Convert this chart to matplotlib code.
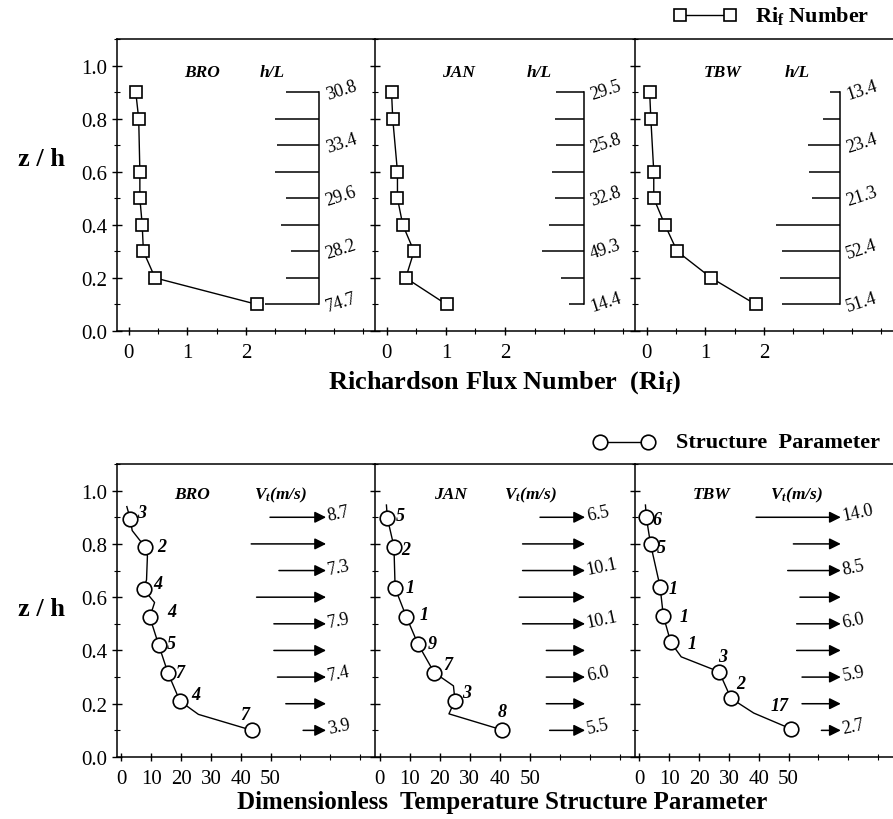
import matplotlib
matplotlib.use("Agg")
import matplotlib.pyplot as plt
from matplotlib.ticker import MultipleLocator, FixedLocator

plt.rcParams['font.family'] = ['Liberation Serif', 'DejaVu Serif']
plt.rcParams['mathtext.fontset'] = 'custom'
plt.rcParams['mathtext.rm'] = 'Liberation Serif'
plt.rcParams['mathtext.bf'] = 'Liberation Serif:bold'
plt.rcParams['mathtext.it'] = 'Liberation Serif:italic'
plt.rcParams['mathtext.bfit'] = 'Liberation Serif:italic:bold'

# ---------------- data: top row (Richardson flux number) ----------------
stations = ["BRO", "JAN", "TBW"]
z_ri = [0.9, 0.8, 0.6, 0.5, 0.4, 0.3, 0.2, 0.1]
ri_bro = [0.12, 0.17, 0.19, 0.19, 0.23, 0.25, 0.45, 2.19]
ri_jan = [0.08, 0.10, 0.18, 0.18, 0.27, 0.46, 0.32, 1.01]
ri_tbw = [0.05, 0.07, 0.12, 0.12, 0.31, 0.52, 1.10, 1.86]

z_hl = [0.9, 0.8, 0.7, 0.6, 0.5, 0.4, 0.3, 0.2, 0.1]
hl_bar_bro = [2.68, 2.49, 2.53, 2.49, 2.68, 2.59, 2.77, 2.68, 2.32]
hl_bar_jan = [2.86, 2.84, 2.87, 2.79, 2.84, 2.75, 2.63, 2.94, 3.08]
hl_bar_tbw = [3.13, 3.01, 2.75, 2.76, 2.82, 2.21, 2.30, 2.28, 2.31]
hl_axis = [3.25, 3.33, 3.29]
z_hl_lab = [0.9, 0.7, 0.5, 0.3, 0.1]
hl_bro = ["30.8", "33.4", "29.6", "28.2", "74.7"]
hl_jan = ["29.5", "25.8", "32.8", "49.3", "14.4"]
hl_tbw = ["13.4", "23.4", "21.3", "52.4", "51.4"]

# ---------------- data: bottom row (structure parameter) ----------------
ct_bro = [2.9, 7.8, 7.4, 9.5, 12.5, 15.6, 19.6, 43.8]
zc_bro = [0.895, 0.79, 0.63, 0.525, 0.42, 0.315, 0.21, 0.10]
ct_jan = [2.6, 4.8, 5.2, 8.9, 12.8, 18.2, 25.1, 40.7]
zc_jan = [0.898, 0.79, 0.634, 0.527, 0.424, 0.317, 0.212, 0.102]
ct_tbw = [2.3, 3.7, 6.9, 8.0, 10.5, 26.7, 30.7, 50.7]
zc_tbw = [0.90, 0.80, 0.64, 0.53, 0.43, 0.32, 0.22, 0.106]

prof_bro_x = [1.8, 2.9, 3.6, 7.8, 8.7, 8.4, 7.4, 11.1, 9.5, 12.5, 15.6, 19.6, 25.8, 43.8]
prof_bro_z = [0.94, 0.895, 0.85, 0.79, 0.755, 0.665, 0.63, 0.58, 0.525, 0.42, 0.315, 0.21, 0.16, 0.10]
prof_jan_x = [2.3, 2.6, 4.8, 5.2, 8.9, 12.8, 18.2, 24.6, 25.1, 23.1, 40.7]
prof_jan_z = [0.946, 0.898, 0.79, 0.634, 0.527, 0.424, 0.317, 0.267, 0.212, 0.162, 0.102]
prof_tbw_x = [2.0, 2.3, 3.7, 6.9, 8.0, 10.5, 14.0, 26.7, 30.7, 38.3, 50.7]
prof_tbw_z = [0.946, 0.90, 0.80, 0.64, 0.53, 0.43, 0.376, 0.32, 0.22, 0.165, 0.106]

n_bro = ["3", "2", "4", "4", "5", "7", "4", "7"]
n_jan = ["5", "2", "1", "1", "9", "7", "3", "8"]
n_tbw = ["6", "5", "1", "1", "1", "3", "2", "17"]
# label placement (layout)
npos_bro = [(6.6, 0.917), (13.4, 0.79), (12.3, 0.653), (16.8, 0.546), (16.8, 0.425), (19.6, 0.318), (25.0, 0.234), (41.3, 0.16)]
npos_jan = [(7.0, 0.905), (8.7, 0.78), (10.3, 0.635), (14.7, 0.535), (17.4, 0.425), (22.7, 0.347), (28.9, 0.244), (40.7, 0.169)]
npos_tbw = [(5.8, 0.89), (7.2, 0.785), (11.3, 0.634), (15.0, 0.527), (17.7, 0.425), (28.0, 0.376), (34.0, 0.275), (47.0, 0.194)]

z_v = [0.9, 0.8, 0.7, 0.6, 0.5, 0.4, 0.3, 0.2, 0.1]
v_start_bro = [49.8, 43.5, 52.8, 45.3, 51.1, 51.1, 52.3, 55.1, 60.9]
v_start_jan = [53.4, 47.6, 47.6, 46.5, 47.6, 55.5, 55.5, 55.5, 56.6]
v_start_tbw = [39.1, 51.6, 49.7, 53.8, 52.7, 52.7, 54.5, 54.5, 61.0]
v_tip = [68.6, 68.4, 67.5]
z_v_lab = [0.9, 0.7, 0.5, 0.3, 0.1]
v_bro = ["8.7", "7.3", "7.9", "7.4", "3.9"]
v_jan = ["6.5", "10.1", "10.1", "6.0", "5.5"]
v_tbw = ["14.0", "8.5", "6.0", "5.9", "2.7"]

y_ticks = [0.0, 0.2, 0.4, 0.6, 0.8, 1.0]
ri_ticks = [0, 1, 2]
ct_ticks = [0, 10, 20, 30, 40, 50]

# ---------------- figure ----------------
W, H = 893, 820
fig = plt.figure(figsize=(W / 100, H / 100), dpi=100)


def px_axes(x0, y0, x1, y1):
    return fig.add_axes([x0 / W, (H - y1) / H, (x1 - x0) / W, (y1 - y0) / H])


TICK_FS = 15
PANEL_FS = 12.5
NUM_FS = 13
lefts = [117, 375, 635]
rights = [375, 635, 893]


def style_axes(ax, first):
    ax.set_ylim(0, 1.1)
    ax.yaxis.set_major_locator(FixedLocator(y_ticks))
    ax.yaxis.set_minor_locator(MultipleLocator(0.1))
    ax.tick_params(axis='y', which='major', direction='inout', length=7, width=1, labelsize=TICK_FS)
    ax.tick_params(axis='y', which='minor', direction='inout', length=4, width=0.8)
    ax.tick_params(axis='x', which='major', direction='inout', length=6, width=1, labelsize=TICK_FS, pad=6)
    ax.tick_params(axis='x', which='minor', direction='inout', length=4, width=0.8)
    if first:
        ax.set_yticklabels([f"{t:.1f}" for t in y_ticks])
    else:
        ax.set_yticklabels([])
    ax.spines['right'].set_visible(False)
    for s in ['left', 'top', 'bottom']:
        ax.spines[s].set_linewidth(1.1)


# top row
ri_all = [ri_bro, ri_jan, ri_tbw]
bars_all = [hl_bar_bro, hl_bar_jan, hl_bar_tbw]
hl_all = [hl_bro, hl_jan, hl_tbw]
st_x_top = [1.25, 1.21, 1.29]
hl_x_top = [2.44, 2.58, 2.56]
for i in range(3):
    ax = px_axes(lefts[i], 40, rights[i], 332)
    ax.set_xlim(-0.2, 4.2)
    ax.xaxis.set_major_locator(FixedLocator(ri_ticks))
    ax.xaxis.set_minor_locator(FixedLocator([0.5, 1.5, 2.5, 3.0, 3.5, 4.0]))
    style_axes(ax, i == 0)
    ax.plot(ri_all[i], z_ri, color='black', lw=1.0, marker='s', ms=8,
            mfc='white', mec='black', mew=1.2, zorder=3)
    ax.plot([hl_axis[i], hl_axis[i]], [min(z_hl), max(z_hl)], color='black', lw=1.1)
    ax.hlines(z_hl, bars_all[i], hl_axis[i], color='black', lw=1.1)
    for z, lab in zip(z_hl_lab, hl_all[i]):
        ax.text(hl_axis[i] + 0.12, z - 0.01, lab, fontsize=NUM_FS, rotation=18,
                rotation_mode='anchor', ha='left', va='center')
    ax.text(st_x_top[i], 0.975, stations[i], fontsize=PANEL_FS, fontweight='bold',
            style='italic', ha='center', va='center')
    ax.text(hl_x_top[i], 0.975, "h/L", fontsize=PANEL_FS, fontweight='bold',
            style='italic', ha='center', va='center')

# bottom row
ct_all = [ct_bro, ct_jan, ct_tbw]
zc_all = [zc_bro, zc_jan, zc_tbw]
px_all = [prof_bro_x, prof_jan_x, prof_tbw_x]
pz_all = [prof_bro_z, prof_jan_z, prof_tbw_z]
n_all = [n_bro, n_jan, n_tbw]
npos_all = [npos_bro, npos_jan, npos_tbw]
vs_all = [v_start_bro, v_start_jan, v_start_tbw]
vl_all = [v_bro, v_jan, v_tbw]
st_x_bot = [23.5, 23.5, 24.2]
vt_x_bot = [44.4, 41.5, 43.7]
for i in range(3):
    ax = px_axes(lefts[i], 465, rights[i], 758)
    ax.set_xlim(-1.5, 85)
    ax.xaxis.set_major_locator(FixedLocator(ct_ticks))
    ax.xaxis.set_minor_locator(FixedLocator([60, 70, 80]))
    style_axes(ax, i == 0)
    ax.plot(px_all[i], pz_all[i], color='black', lw=1.0, zorder=2)
    ax.plot(ct_all[i], zc_all[i], ls='none', marker='o', ms=10.5,
            mfc='white', mec='black', mew=1.2, zorder=3)
    for lab, (x, z) in zip(n_all[i], npos_all[i]):
        ax.text(x, z, lab, fontsize=NUM_FS, fontweight='bold', style='italic',
                ha='center', va='center')
    for z, xs in zip(z_v, vs_all[i]):
        ax.annotate('', xy=(v_tip[i], z), xytext=(xs, z),
                    arrowprops=dict(arrowstyle='-|>', color='black', lw=1.1,
                                    mutation_scale=17, shrinkA=0, shrinkB=0))
    for z, lab in zip(z_v_lab, vl_all[i]):
        ax.text(v_tip[i] + 0.6, z + 0.005, lab, fontsize=NUM_FS, rotation=12,
                rotation_mode='anchor', ha='left', va='center')
    ax.text(st_x_bot[i], 0.986, stations[i], fontsize=PANEL_FS, fontweight='bold',
            style='italic', ha='center', va='center')
    ax.text(vt_x_bot[i], 0.986, r"$\mathbfit{V_t(m/s)}$", fontsize=PANEL_FS,
            ha='left', va='center')

# overlay for labels and legends (pixel coordinates)
ov = fig.add_axes([0, 0, 1, 1], facecolor='none')
ov.set_xlim(0, W)
ov.set_ylim(H, 0)
ov.axis('off')

ov.text(505, 383, r"Richardson Flux Number  ($\mathbf{Ri_f}$)", fontsize=19,
        fontweight='bold', ha='center', va='center')
ov.text(502, 803, "Dimensionless  Temperature Structure Parameter", fontsize=18,
        fontweight='bold', ha='center', va='center')
ov.text(42, 160, "z / h", fontsize=19, fontweight='bold', ha='center', va='center')
ov.text(42, 610, "z / h", fontsize=19, fontweight='bold', ha='center', va='center')

ov.plot([680, 730], [16, 16], color='black', lw=1.0, marker='s', ms=8,
        mfc='white', mec='black', mew=1.2)
ov.text(755, 16, r"$\mathbf{Ri_f}$ Number", fontsize=16, fontweight='bold',
        ha='left', va='center')
ov.plot([600, 648], [443, 443], color='black', lw=1.0, marker='o', ms=10.5,
        mfc='white', mec='black', mew=1.2)
ov.text(676, 443, "Structure  Parameter", fontsize=16, fontweight='bold',
        ha='left', va='center')

fig.savefig("out.png", dpi=100)
